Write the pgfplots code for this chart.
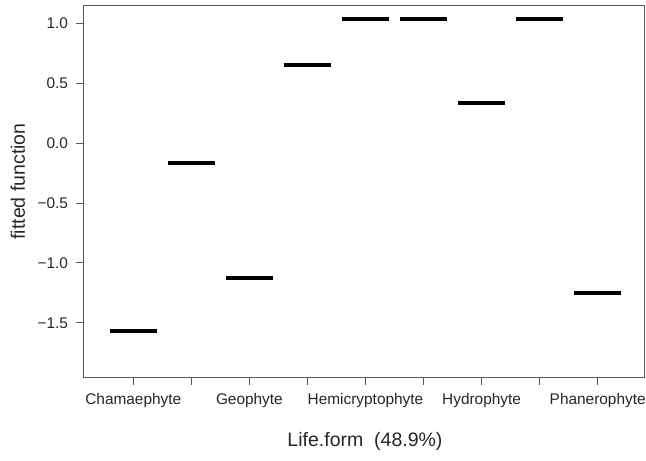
\documentclass[border=0pt]{standalone}
\usepackage{fontspec}
\setmainfont{Liberation Sans}
\usepackage{pgfplots}
\pgfplotsset{compat=1.18}
\begin{document}
\begin{tikzpicture}[x=1pt,y=1pt]
\useasboundingbox (0,0) rectangle (646,461);
\begin{axis}[
  at={(83.5pt,83.3pt)}, anchor=south west,
  scale only axis, width=561.5pt, height=372.4pt,
  xmin=0.142, xmax=9.815, ymin=-1.958, ymax=1.151,
  axis line style={black!65, line width=1pt},
  xtick={1,2,3,4,5,6,7,8,9},
  xticklabels={Chamaephyte,{},Geophyte,{},Hemicryptophyte,{},Hydrophyte,{},Phanerophyte},
  ytick={-1.5,-1,-0.5,0,0.5,1},
  yticklabels={−1.5,−1.0,−0.5,0.0,0.5,1.0},
  tick align=outside, xtick pos=bottom, ytick pos=left,
  major tick length=7pt,
  tick style={black!65, line width=1pt},
  ticklabel style={font=\fontsize{15.4}{18}\selectfont, text=black!85},
  xticklabel style={yshift=-5pt},
  yticklabel style={xshift=-5pt},
  xlabel={Life.form\ \ (48.9\%)},
  ylabel={fitted function},
  label style={font=\fontsize{19.5}{22}\selectfont, text=black!85},
  xlabel style={at={(axis description cs:0.5013,-0.170)}, anchor=center},
  ylabel style={at={(axis description cs:-0.1167,0.527)}, anchor=center},
  clip=false,
]
\addplot[black, solid, line width=4pt] coordinates {(0.6,-1.566) (1.4,-1.566)};
\addplot[black, solid, line width=4pt] coordinates {(1.6,-0.162) (2.4,-0.162)};
\addplot[black, solid, line width=4pt] coordinates {(2.6,-1.123) (3.4,-1.123)};
\addplot[black, solid, line width=4pt] coordinates {(3.6,0.654) (4.4,0.654)};
\addplot[black, solid, line width=4pt] coordinates {(4.6,1.036) (5.4,1.036)};
\addplot[black, solid, line width=4pt] coordinates {(5.6,1.036) (6.4,1.036)};
\addplot[black, solid, line width=4pt] coordinates {(6.6,0.337) (7.4,0.337)};
\addplot[black, solid, line width=4pt] coordinates {(7.6,1.036) (8.4,1.036)};
\addplot[black, solid, line width=4pt] coordinates {(8.6,-1.253) (9.4,-1.253)};
\end{axis}
\end{tikzpicture}
\end{document}
